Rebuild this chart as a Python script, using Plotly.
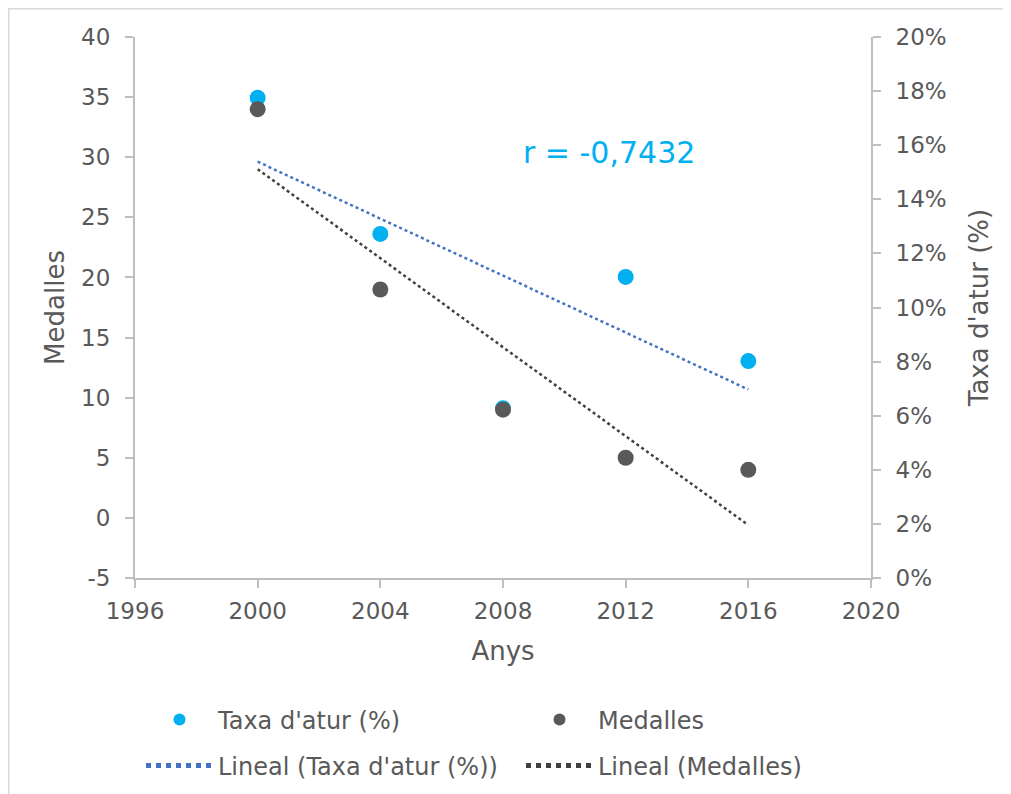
import numpy as np
import plotly.graph_objects as go

anys = [2000, 2004, 2008, 2012, 2016]
taxa_atur = [17.75, 12.72, 6.28, 11.13, 8.02]   # %
medalles = [34, 19, 9, 5, 4]

x_ticks = [1996, 2000, 2004, 2008, 2012, 2016, 2020]
left_ticks = [-5, 0, 5, 10, 15, 20, 25, 30, 35, 40]
right_ticks = [0, 2, 4, 6, 8, 10, 12, 14, 16, 18, 20]

c_taxa = "#00B0F0"
c_med = "#595959"
c_trend_taxa = "#4472C4"
c_trend_med = "#404040"
txt = "#595959"
axc = "#BFBFBF"
FONT = "DejaVu Sans"

# linear trend lines (as Excel's "Lineal")
xt = np.array([anys[0], anys[-1]])
pt = np.polyfit(anys, taxa_atur, 1)
pm = np.polyfit(anys, medalles, 1)

fig = go.Figure()
fig.add_trace(go.Scatter(x=anys, y=taxa_atur, mode="markers", name="Taxa d'atur (%)",
                         marker=dict(color=c_taxa, size=16), yaxis="y", legend="legend"))
fig.add_trace(go.Scatter(x=anys, y=medalles, mode="markers", name="Medalles",
                         marker=dict(color=c_med, size=16), yaxis="y2", legend="legend2"))
fig.add_trace(go.Scatter(x=xt, y=np.polyval(pt, xt), mode="lines", name="Lineal (Taxa d'atur (%))",
                         line=dict(color=c_trend_taxa, width=2.5, dash="dot"), yaxis="y", legend="legend3"))
fig.add_trace(go.Scatter(x=xt, y=np.polyval(pm, xt), mode="lines", name="Lineal (Medalles)",
                         line=dict(color=c_trend_med, width=2.5, dash="dot"), yaxis="y2", legend="legend4"))

axis_common = dict(showgrid=False, zeroline=False, showline=True, linecolor=axc, linewidth=2,
                   ticks="outside", ticklen=8, tickcolor=axc, tickwidth=2,
                   tickfont=dict(family=FONT, size=23, color=txt))
title_font = dict(family=FONT, size=26, color=txt)
leg_font = dict(family=FONT, size=24, color=txt)

# page offset of the figure inside the html body (8px default margin)
OFF = 8
W, H = 1011 - OFF, 794 - OFF
L, T, PW, PH = 135 - OFF, 37 - OFF, 736, 541
R, B = W - L - PW, H - T - PH


def leg(px, py):
    return dict(orientation="v", xref="paper", x=(px - 135) / PW, xanchor="left",
                y=(578 - py) / PH, yanchor="middle", font=leg_font,
                itemwidth=67, bgcolor="rgba(0,0,0,0)", itemsizing="constant")


fig.update_layout(
    width=W, height=H,
    margin=dict(l=L, r=R, t=T, b=B, autoexpand=False),
    paper_bgcolor="white", plot_bgcolor="white",
    font=dict(family=FONT, color=txt),
    showlegend=True,
    xaxis=dict(range=[1996, 2020], tickmode="array", tickvals=x_ticks, ticktext=[str(v) for v in x_ticks],
               ticklabelstandoff=3,
               title=dict(text="Anys", font=title_font, standoff=19), **axis_common),
    yaxis=dict(range=[0, 20], tickmode="array", tickvals=right_ticks, ticktext=[f"{v}%" for v in right_ticks],
               side="right", ticklabelstandoff=10,
               title=dict(text="Taxa d'atur (%)", font=title_font, standoff=24), **axis_common),
    yaxis2=dict(range=[-5, 40], tickmode="array", tickvals=left_ticks, ticktext=[str(v) for v in left_ticks],
                side="left", overlaying="y", anchor="x", ticklabelstandoff=10,
                title=dict(text="Medalles", font=title_font, standoff=9), **axis_common),
    legend=leg(141, 720),
    legend2=leg(521, 720),
    legend3=leg(141, 766),
    legend4=leg(521, 766),
    annotations=[dict(text="r = -0,7432", x=2011.45, y=30.43, xref="x", yref="y2", showarrow=False,
                      font=dict(family=FONT, size=30, color=c_taxa))],
    shapes=[
        dict(type="line", xref="paper", yref="paper", x0=(0 - L) / PW, x1=(W - L) / PW,
             y0=(H - B - 0.5) / PH, y1=(H - B - 0.5) / PH, line=dict(color="#D9D9D9", width=2)),
        dict(type="line", xref="paper", yref="paper", x0=(0.5 - L) / PW, x1=(0.5 - L) / PW,
             y0=(H - B) / PH, y1=(-B) / PH, line=dict(color="#D9D9D9", width=2)),
    ],
)

fig.write_html("out.html")
